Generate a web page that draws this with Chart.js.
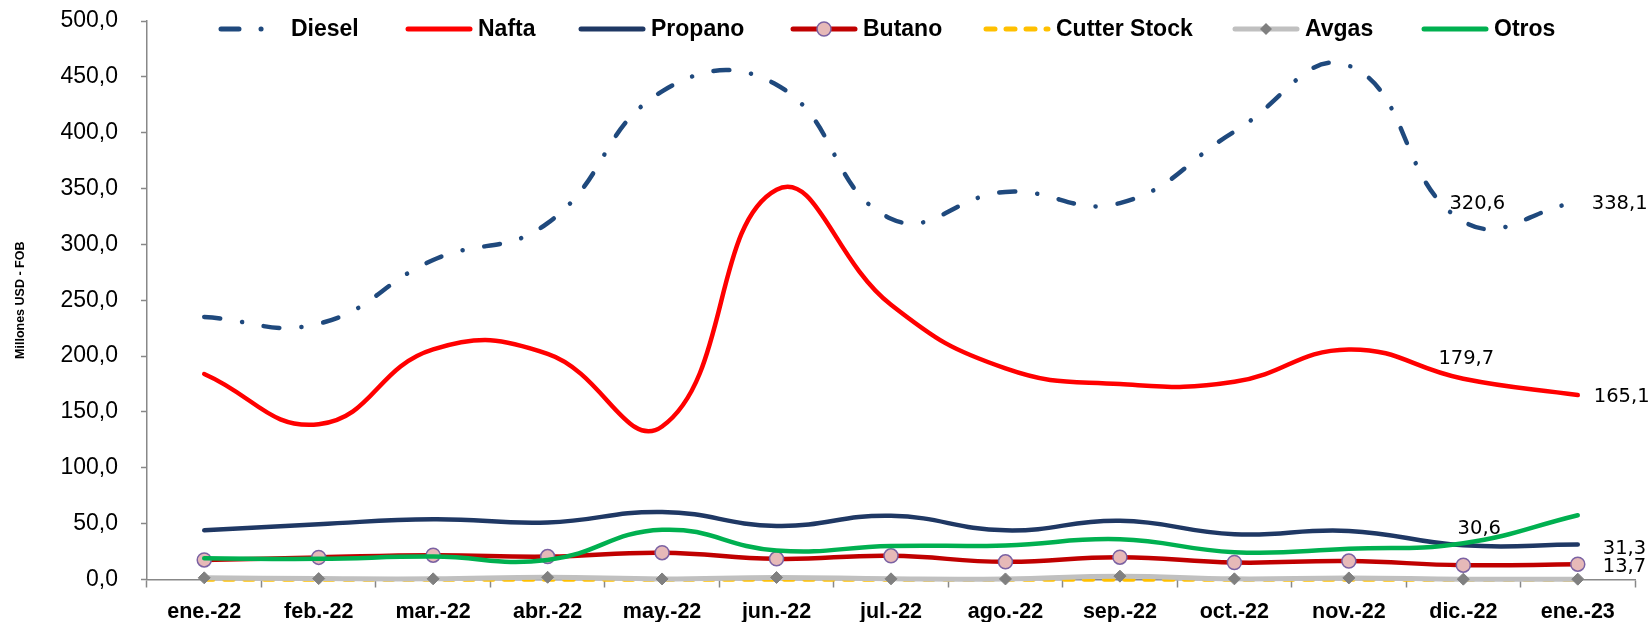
<!DOCTYPE html>
<html>
<head>
<meta charset="utf-8">
<script src="https://cdn.jsdelivr.net/npm/chart.js@4.4.1/dist/chart.umd.min.js"></script>
<style>
  body { margin: 0; background: #fff; }
  #wrap { width: 1652px; height: 622px; }
</style>
</head>
<body>
<div id="wrap"><canvas id="exportChart" width="1652" height="622"></canvas></div>
<script>
// meses
const months = ['ene.-22', 'feb.-22', 'mar.-22', 'abr.-22', 'may.-22', 'jun.-22', 'jul.-22',
                'ago.-22', 'sep.-22', 'oct.-22', 'nov.-22', 'dic.-22', 'ene.-23'];

// valores (Millones USD - FOB)
const diesel  = [235, 229, 286, 319, 437, 443, 323, 347, 337, 401, 460, 320.6, 338.1];
const nafta   = [184, 139, 206, 202, 137, 349, 246, 189, 175, 177, 206, 179.7, 165.1];
const propano = [44, 49.5, 54, 51, 60.5, 48, 57, 44, 52.5, 40.5, 43.5, 30.6, 31.3];
const butano  = [17.5, 19.8, 21.8, 20.5, 24, 18.5, 21.2, 15.8, 20, 15.2, 16.5, 12.8, 13.7];
const cutter  = [0, 0, 0, 0, 0, 0, 0, 0, 0, 0, 0, 0, 0];
const avgas   = [1.5, 0.8, 0.6, 2.0, 0.5, 1.8, 0.6, 0.5, 3.0, 0.6, 1.4, 0.3, 0.3];
const otros   = [19, 18.5, 20.5, 17.5, 44.5, 26, 30, 30.5, 36, 24.5, 27.5, 32.5, 57.5];

const yTicks = [0, 50, 100, 150, 200, 250, 300, 350, 400, 450, 500];

// etiquetas de datos: [dataset, indice]
const dataLabels = [[0, 11], [0, 12], [1, 11], [1, 12], [2, 11], [2, 12], [3, 12]];

const FONT = 'Liberation Sans, Arial, sans-serif';
const fmt = v => v.toFixed(1).replace('.', ',');

// desplazamiento de cada etiqueta respecto a su punto
const labelOffsets = {
    '0-11': { dx: 14, dy: -17, align: 'center' },
    '0-12': { dx: 14, dy: 2, align: 'left' },
    '1-11': { dx: 3, dy: -20, align: 'center' },
    '1-12': { dx: 16, dy: 2, align: 'left' },
    '2-11': { dx: 16, dy: -16, align: 'center' },
    '2-12': { dx: 25, dy: 4, align: 'left' },
    '3-12': { dx: 25, dy: 3, align: 'left' }
};

// leyenda dibujada a mano (va dentro del area del grafico)
const legendX = [219, 406, 579, 791, 984, 1233, 1422];
const legendPlugin = {
    id: 'legendInside',
    afterDraw(chart) {
        const ctx = chart.ctx;
        const y = 29;
        ctx.save();
        ctx.font = 'bold 23px ' + FONT;
        ctx.textBaseline = 'middle';
        chart.data.datasets.forEach((ds, k) => {
            const x = legendX[k];
            ctx.strokeStyle = ds.borderColor;
            ctx.lineWidth = 5;
            ctx.lineCap = 'round';
            ctx.setLineDash(ds.legendDash || ds.borderDash || []);
            ctx.beginPath();
            ctx.moveTo(x + 2, y);
            ctx.lineTo(x + 64, y);
            ctx.stroke();
            ctx.setLineDash([]);
            const mx = x + 33;
            if (ds.pointRadius > 0 && ds.pointStyle === 'circle') {
                ctx.fillStyle = ds.pointBackgroundColor;
                ctx.strokeStyle = ds.pointBorderColor;
                ctx.lineWidth = ds.pointBorderWidth;
                ctx.beginPath();
                ctx.arc(mx, y, ds.pointRadius, 0, Math.PI * 2);
                ctx.fill();
                ctx.stroke();
            } else if (ds.pointRadius > 0 && ds.pointStyle === 'rectRot') {
                const r = ds.pointRadius;
                ctx.fillStyle = ds.pointBackgroundColor;
                ctx.beginPath();
                ctx.moveTo(mx, y - r);
                ctx.lineTo(mx + r, y);
                ctx.lineTo(mx, y + r);
                ctx.lineTo(mx - r, y);
                ctx.closePath();
                ctx.fill();
            }
            ctx.fillStyle = '#000';
            ctx.textAlign = 'left';
            ctx.fillText(ds.label, x + 72, y + 1);
        });
        ctx.restore();
    }
};

const valueLabelPlugin = {
    id: 'valueLabels',
    afterDatasetsDraw(chart) {
        const ctx = chart.ctx;
        ctx.save();
        ctx.font = '19.5px DejaVu Sans, sans-serif';
        ctx.fillStyle = '#000';
        ctx.textBaseline = 'middle';
        dataLabels.forEach(([d, i]) => {
            const pt = chart.getDatasetMeta(d).data[i];
            const off = labelOffsets[d + '-' + i];
            ctx.textAlign = off.align;
            ctx.fillText(fmt(chart.data.datasets[d].data[i]), pt.x + off.dx, pt.y + off.dy);
        });
        ctx.restore();
    }
};

const ctx = document.getElementById('exportChart').getContext('2d');
const exportChart = new Chart(ctx, {
    type: 'line',
    data: {
        labels: months,
        datasets: [
            {
                label: 'Diesel', data: diesel, borderColor: '#1F497D', borderWidth: 4.5,
                borderDash: [16, 22, 0.1, 22], legendDash: [18, 22, 0.1, 22.5, 0.1, 100],
                pointRadius: 0, order: 7
            },
            { label: 'Nafta', data: nafta, borderColor: '#FF0000', borderWidth: 4.5, pointRadius: 0, order: 6 },
            { label: 'Propano', data: propano, borderColor: '#1F3864', borderWidth: 4.5, pointRadius: 0, order: 5 },
            {
                label: 'Butano', data: butano, borderColor: '#C00000', borderWidth: 4.5,
                pointStyle: 'circle', pointRadius: 7, pointBackgroundColor: '#E6B9B8',
                pointBorderColor: '#7B62A3', pointBorderWidth: 1.5, order: 4
            },
            {
                label: 'Cutter Stock', data: cutter, borderColor: '#FFC000', borderWidth: 4.5,
                borderDash: [9, 11], pointRadius: 0, order: 3
            },
            {
                label: 'Avgas', data: avgas, borderColor: '#C0C0C0', borderWidth: 5,
                pointStyle: 'rectRot', pointRadius: 6, pointBackgroundColor: '#808080',
                pointBorderColor: '#808080', pointBorderWidth: 1, order: 2
            },
            { label: 'Otros', data: otros, borderColor: '#00B050', borderWidth: 4.5, pointRadius: 0, order: 1 }
        ]
    },
    options: {
        responsive: false,
        animation: false,
        layout: { padding: { top: 21, right: 17 } },
        elements: {
            line: { tension: 0.45, borderCapStyle: 'round', fill: false },
            point: { hoverRadius: 0 }
        },
        datasets: { line: { clip: 8 } },
        scales: {
            x: {
                offset: true,
                afterFit: s => { s.height = 42.5; },
                grid: { display: true, drawOnChartArea: false, offset: true, tickLength: 8, color: '#888', tickWidth: 1.5 },
                border: { color: '#888', width: 1.5 },
                ticks: { color: '#000', font: { family: FONT, size: 21.5, weight: 'bold' }, padding: 11.5, maxRotation: 0, autoSkip: false }
            },
            y: {
                min: 0, max: 500,
                afterFit: s => { s.width = 147; s.paddingTop = 0; s.paddingBottom = 0; },
                afterBuildTicks: s => { s.ticks = yTicks.map(v => ({ value: v })); },
                grid: { display: true, drawOnChartArea: false, tickLength: 6, color: '#888', tickWidth: 1.5 },
                border: { color: '#888', width: 1.5 },
                title: { display: true, text: 'Millones USD - FOB', color: '#000', font: { family: FONT, size: 12.5, weight: 'bold' }, padding: { top: 13, bottom: 0 } },
                ticks: { color: '#000', font: { family: FONT, size: 23 }, padding: 23, callback: v => fmt(v) }
            }
        },
        plugins: {
            legend: { display: false },
            tooltip: { enabled: false }
        }
    },
    plugins: [legendPlugin, valueLabelPlugin]
});
</script>
</body>
</html>
